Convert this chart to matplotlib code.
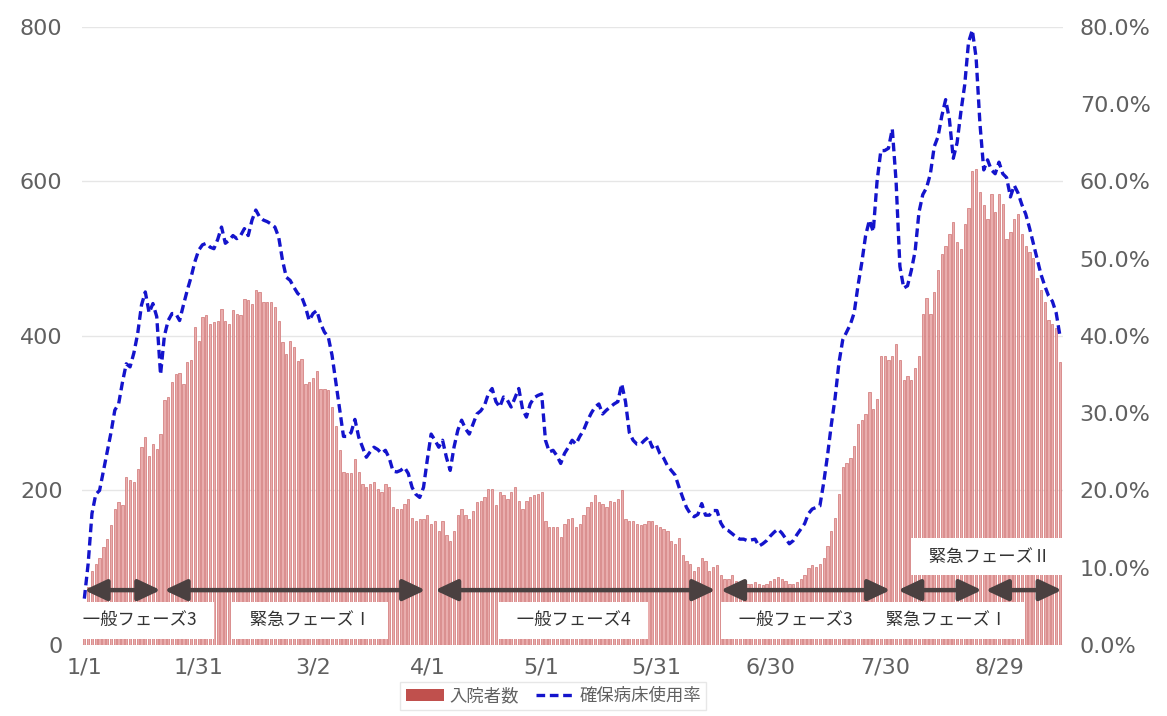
import matplotlib

matplotlib.use("Agg")
import matplotlib.pyplot as plt
import numpy as np
import pandas as pd
from matplotlib.lines import Line2D
from matplotlib.patches import Patch

JP_FONT = ["Noto Sans CJK JP", "DejaVu Sans"]
BAR_FILL = "#E9ADAD"
BAR_EDGE = "#D07272"
LEGEND_RED = "#C0504D"
LINE_BLUE = "#1414CC"
ARROW = "#4A4040"
TICK = "#606060"
GRID = "#E6E6E6"

# daily inpatients (left axis), from 1/1
inpatients = [
    45, 75, 96, 105, 113, 127, 137, 155, 176, 185,
    181, 217, 213, 211, 228, 256, 269, 245, 260, 254,
    273, 317, 321, 340, 351, 352, 338, 366, 369, 412,
    394, 425, 427, 416, 418, 420, 435, 420, 416, 433,
    429, 427, 448, 446, 442, 459, 457, 444, 444, 444,
    438, 420, 392, 377, 394, 386, 368, 370, 338, 340,
    345, 355, 332, 331, 330, 308, 284, 252, 224, 222,
    222, 241, 224, 209, 204, 209, 211, 202, 198, 209,
    204, 178, 176, 176, 183, 189, 165, 161, 163, 163,
    168, 157, 160, 147, 160, 142, 135, 148, 168, 176,
    168, 163, 174, 185, 187, 191, 202, 202, 181, 198,
    194, 189, 198, 204, 187, 176, 187, 191, 194, 196,
    198, 161, 153, 153, 153, 140, 157, 163, 165, 153,
    157, 168, 178, 185, 194, 185, 183, 178, 187, 185,
    189, 200, 163, 161, 160, 157, 155, 157, 161, 160,
    155, 153, 150, 147, 135, 131, 138, 116, 109, 105,
    96, 101, 112, 109, 96, 101, 103, 90, 86, 86,
    90, 83, 81, 79, 79, 79, 81, 79, 77, 79,
    83, 86, 88, 86, 83, 79, 79, 81, 86, 90,
    99, 103, 101, 105, 112, 128, 148, 164, 195, 231,
    236, 242, 257, 286, 291, 299, 327, 306, 319, 374,
    374, 369, 374, 390, 369, 343, 348, 343, 358, 374,
    429, 449, 429, 457, 486, 506, 517, 532, 548, 522,
    512, 545, 566, 613, 616, 587, 569, 551, 584, 561,
    584, 571, 525, 535, 551, 558, 532, 517, 509, 501,
    475, 460, 444, 421, 416, 410, 366,
]

# secured-bed usage rate, % (right axis)
bed_usage_pct = [
    6.0, 10.5, 17.0, 19.5, 20.0, 22.5, 25.0, 27.5, 30.4, 31.2,
    34.0, 36.4, 36.0, 37.8, 40.3, 44.0, 45.7, 43.0, 44.2, 42.5,
    35.0, 40.0, 42.0, 42.9, 42.9, 42.0, 44.0, 45.9, 47.6, 49.6,
    51.1, 51.8, 52.0, 51.5, 51.3, 52.5, 54.1, 52.0, 52.4, 53.0,
    52.6, 53.0, 53.9, 53.0, 55.0, 56.3, 55.4, 55.0, 54.8, 54.5,
    54.1, 52.8, 49.8, 47.6, 47.2, 46.3, 45.5, 45.1, 43.8, 42.0,
    42.9, 43.3, 41.6, 40.5, 39.9, 37.5, 34.0, 30.5, 27.0, 27.0,
    27.5, 29.2, 26.9, 25.6, 24.3, 25.0, 25.6, 25.3, 24.8, 25.2,
    24.2, 22.5, 22.4, 22.6, 23.0, 22.2, 20.4, 19.5, 19.1, 20.4,
    24.0, 27.3, 26.5, 25.6, 26.5, 24.3, 22.6, 25.6, 27.8, 29.1,
    28.0, 27.3, 28.6, 29.9, 30.3, 31.0, 32.5, 33.2, 31.5, 30.8,
    32.1, 31.7, 30.8, 32.0, 33.2, 30.5, 29.5, 31.2, 32.0, 32.3,
    32.5, 26.5, 25.0, 25.2, 24.5, 23.5, 24.8, 25.6, 26.5, 26.0,
    27.0, 27.8, 29.0, 30.0, 30.8, 31.2, 29.9, 30.4, 30.8, 31.2,
    31.5, 33.8, 31.5, 27.5, 26.5, 26.0, 26.0, 26.5, 26.9, 25.6,
    26.0, 24.8, 24.2, 23.2, 22.6, 22.0, 20.5, 19.1, 17.8, 17.0,
    16.6, 16.9, 18.3, 16.8, 16.8, 17.4, 17.4, 15.8, 15.0, 14.8,
    14.4, 14.0, 13.7, 13.7, 13.5, 13.6, 13.7, 12.8, 13.1, 13.5,
    14.1, 14.6, 15.0, 14.5, 13.8, 13.1, 13.5, 14.3, 15.0, 15.7,
    17.0, 17.6, 17.8, 18.0, 21.0, 24.5, 28.5, 32.0, 36.5, 39.5,
    40.5, 41.5, 43.0, 46.5, 49.5, 53.0, 55.0, 53.5, 60.0, 64.0,
    64.0, 64.3, 66.8, 60.0, 49.0, 46.2, 46.5, 48.5, 51.0, 56.0,
    58.3, 59.2, 61.0, 64.5, 65.8, 68.5, 70.6, 68.0, 63.0, 65.0,
    69.0, 72.5, 78.0, 79.6, 76.0, 67.5, 61.5, 62.8, 61.5, 61.0,
    62.5, 61.0, 60.5, 58.0, 59.5, 58.5, 57.0, 55.8, 54.0, 52.0,
    50.0, 48.0, 46.5, 45.2, 44.5, 43.0, 40.0,
]

# alert phases: day index where each double arrow starts / ends
phase_names = ["一般フェーズ3", "緊急フェーズⅠ", "一般フェーズ4", "一般フェーズ3", "緊急フェーズⅠ", "緊急フェーズⅡ"]
phase_start = [0, 21, 92, 167, 213.5, 236.5]
phase_end = [20, 89.5, 165.6, 211.5, 235.5, 256.5]
# where each phase label box sits (day, right-axis %)
label_day = [14.6, 59.3, 128.3, 186.6, 226.2, 237.5]
label_pct = [3.2, 3.2, 3.2, 3.2, 3.2, 11.4]
ARROW_PCT = 7.1

dates = pd.date_range("2021-01-01", periods=len(inpatients))
days = np.arange(len(inpatients))

fig = plt.figure(figsize=(11.67, 7.16), dpi=100)
ax = fig.add_axes([0.0703, 0.0992, 0.8406, 0.8631])
ax2 = ax.twinx()

ax.bar(days, inpatients, width=0.6, color=BAR_FILL, edgecolor=BAR_EDGE, linewidth=0.5)
ax2.plot(np.arange(len(bed_usage_pct)), bed_usage_pct, color=LINE_BLUE, linewidth=2.4, dashes=(2.6, 1.4))

ax.set_xlim(-0.6, 256.8)
ax.set_ylim(0, 800)
ax2.set_ylim(0, 80)
ax.set_yticks([0, 200, 400, 600, 800])
ax2.set_yticks(np.arange(0, 81, 10))
ax2.yaxis.set_major_formatter(plt.FuncFormatter(lambda v, _: f"{v:.1f}%"))

tick_days = days[::30]
ax.set_xticks(tick_days)
ax.set_xticklabels([f"{d.month}/{d.day}" for d in dates[tick_days]])

ax.tick_params(axis="x", length=0, labelsize=16, colors=TICK, pad=9)
ax.tick_params(axis="y", length=0, labelsize=16, colors=TICK, pad=14)
ax2.tick_params(axis="y", length=0, labelsize=16, colors=TICK, pad=12)

for a in (ax, ax2):
    for spine in a.spines.values():
        spine.set_visible(False)
ax.yaxis.grid(True, color=GRID, linewidth=1.0)
ax.set_axisbelow(True)

for start, end in zip(phase_start, phase_end):
    ax2.annotate(
        "",
        xy=(end, ARROW_PCT),
        xytext=(start, ARROW_PCT),
        arrowprops=dict(
            arrowstyle="<|-|>,head_length=0.85,head_width=0.4",
            color=ARROW,
            lw=3.2,
            shrinkA=0,
            shrinkB=0,
            mutation_scale=16,
        ),
        zorder=4,
    )

for name, lx, ly in zip(phase_names, label_day, label_pct):
    ax2.text(
        lx,
        ly,
        f"  {name}  ",
        family=JP_FONT,
        fontsize=12.5,
        color="#333333",
        ha="center",
        va="center",
        zorder=5,
        bbox=dict(boxstyle="square,pad=0.55", facecolor="white", edgecolor="none"),
    )

handles = [
    Patch(facecolor=LEGEND_RED, edgecolor="none"),
    Line2D([], [], color=LINE_BLUE, linewidth=2.4, dashes=(2.6, 1.4)),
]
leg = fig.legend(
    handles,
    ["入院者数", "確保病床使用率"],
    loc="lower center",
    bbox_to_anchor=(0.474, -0.004),
    ncol=2,
    frameon=True,
    fancybox=False,
    edgecolor="#E2E2E2",
    prop={"family": JP_FONT, "size": 12.5},
    handlelength=2.2,
    handletextpad=0.3,
    columnspacing=1.0,
    borderpad=0.3,
)
for t in leg.get_texts():
    t.set_color(TICK)

fig.savefig("out.png", dpi=100)
